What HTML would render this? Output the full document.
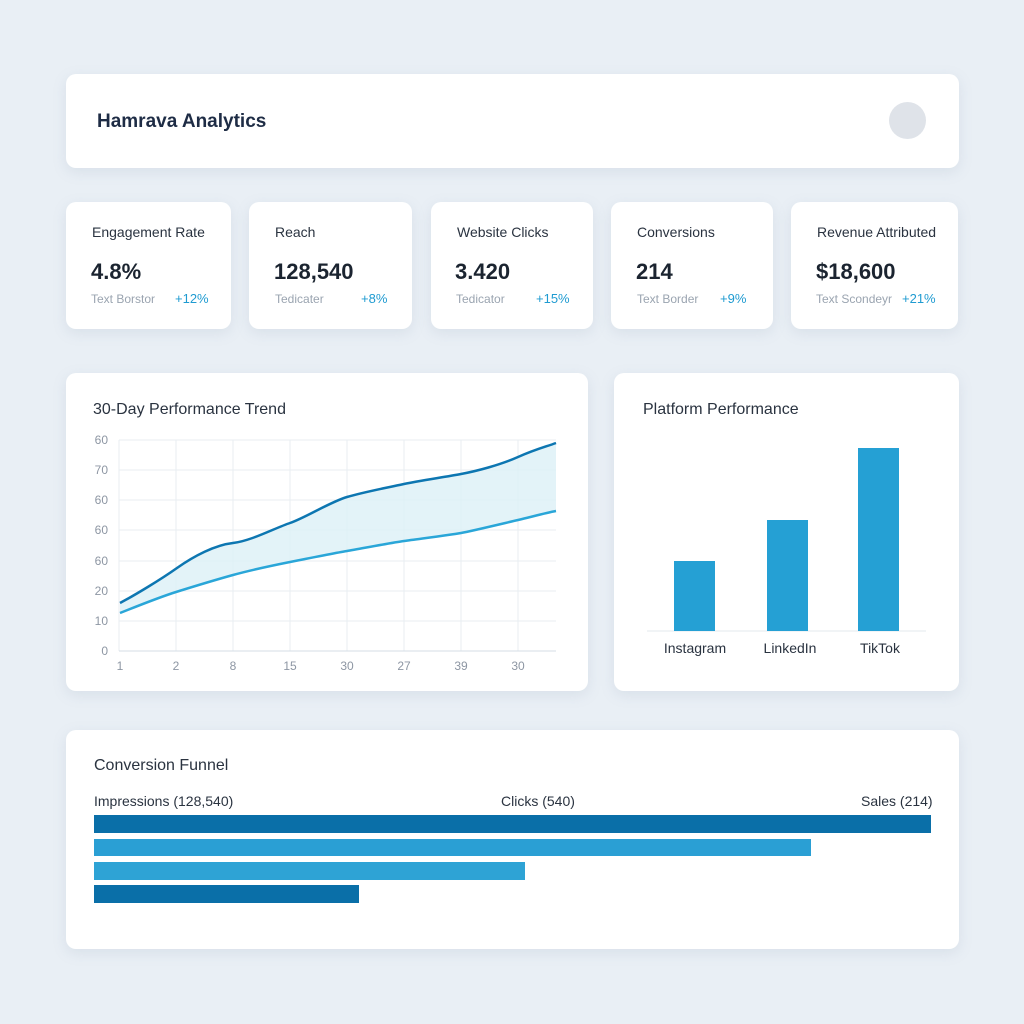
<!DOCTYPE html><html><head><style>
body{margin:0;width:1024px;height:1024px;background:#e9eff5;font-family:"Liberation Sans",sans-serif;position:relative;overflow:hidden;color:#1f2a37}
.c{position:absolute;background:#fff;border-radius:10px;box-shadow:0 4px 14px rgba(120,140,170,.15)}
.t{position:absolute;font-size:14px;color:#2a3340}
.v{position:absolute;font-size:22px;font-weight:bold;color:#1b2430}
.s{position:absolute;font-size:12px;color:#9aa4b0}
.p{position:absolute;font-size:13px;color:#1f9bd1}
</style></head><body>
<div class="c" style="left:66px;top:74px;width:893px;height:94px"></div>
<div style="position:absolute;left:97px;top:111px;font-size:19px;color:#1e2c45;font-weight:600">Hamrava Analytics</div>
<div style="position:absolute;left:889px;top:102px;width:37px;height:37px;border-radius:50%;background:#dfe3e9"></div>

<div class="c" style="left:66px;top:202px;width:165px;height:127px"></div>
<div class="c" style="left:249px;top:202px;width:163px;height:127px"></div>
<div class="c" style="left:431px;top:202px;width:162px;height:127px"></div>
<div class="c" style="left:611px;top:202px;width:162px;height:127px"></div>
<div class="c" style="left:791px;top:202px;width:167px;height:127px"></div>
<div class="t" style="left:92px;top:224px">Engagement Rate</div><div class="v" style="left:91px;top:259px">4.8%</div><div class="s" style="left:91px;top:292px">Text Borstor</div><div class="p" style="left:175px;top:291px">+12%</div>
<div class="t" style="left:275px;top:224px">Reach</div><div class="v" style="left:274px;top:259px">128,540</div><div class="s" style="left:275px;top:292px">Tedicater</div><div class="p" style="left:361px;top:291px">+8%</div>
<div class="t" style="left:457px;top:224px">Website Clicks</div><div class="v" style="left:455px;top:259px">3.420</div><div class="s" style="left:456px;top:292px">Tedicator</div><div class="p" style="left:536px;top:291px">+15%</div>
<div class="t" style="left:637px;top:224px">Conversions</div><div class="v" style="left:636px;top:259px">214</div><div class="s" style="left:637px;top:292px">Text Border</div><div class="p" style="left:720px;top:291px">+9%</div>
<div class="t" style="left:817px;top:224px">Revenue Attributed</div><div class="v" style="left:816px;top:259px">$18,600</div><div class="s" style="left:816px;top:292px">Text Scondeyr</div><div class="p" style="left:902px;top:291px">+21%</div>

<div class="c" style="left:66px;top:373px;width:522px;height:318px"></div>
<div class="c" style="left:614px;top:373px;width:345px;height:318px"></div>
<div class="t" style="left:93px;top:401px;font-size:16px">30-Day Performance Trend</div>
<div class="t" style="left:643px;top:401px;font-size:16px">Platform Performance</div>
<svg style="position:absolute;left:0;top:0" width="1024" height="1024">
<g stroke="#e8edf2" stroke-width="1">
<line x1="119" y1="440" x2="556" y2="440"/><line x1="119" y1="470" x2="556" y2="470"/><line x1="119" y1="500" x2="556" y2="500"/><line x1="119" y1="530" x2="556" y2="530"/><line x1="119" y1="561" x2="556" y2="561"/><line x1="119" y1="591" x2="556" y2="591"/><line x1="119" y1="621" x2="556" y2="621"/>
<line x1="119" y1="440" x2="119" y2="651"/><line x1="176" y1="440" x2="176" y2="651"/><line x1="233" y1="440" x2="233" y2="651"/><line x1="290" y1="440" x2="290" y2="651"/><line x1="347" y1="440" x2="347" y2="651"/><line x1="404" y1="440" x2="404" y2="651"/><line x1="461" y1="440" x2="461" y2="651"/><line x1="518" y1="440" x2="518" y2="651"/>
</g>
<line x1="119" y1="651" x2="556" y2="651" stroke="#d5dde6"/>
<g font-size="12" fill="#8d96a3" font-family="Liberation Sans">
<text x="108" y="444" text-anchor="end">60</text><text x="108" y="474" text-anchor="end">70</text><text x="108" y="504" text-anchor="end">60</text><text x="108" y="534" text-anchor="end">60</text><text x="108" y="565" text-anchor="end">60</text><text x="108" y="595" text-anchor="end">20</text><text x="108" y="625" text-anchor="end">10</text><text x="108" y="655" text-anchor="end">0</text>
<g text-anchor="middle"><text x="120" y="670">1</text><text x="176" y="670">2</text><text x="233" y="670">8</text><text x="290" y="670">15</text><text x="347" y="670">30</text><text x="404" y="670">27</text><text x="461" y="670">39</text><text x="518" y="670">30</text></g>
</g>
<path d="M120,603 C135,595 160,580 177,568 S215,545 233,543 S275,528 290,523 S330,502 347,497 S390,487 404,484 S445,477 461,474 S500,465 518,457 S545,447 556,443 L556,511 C540,516 530,518 518,520 S475,530 461,533 S415,539 404,541 S360,548 347,551 S305,559 290,562 S245,571 233,575 S195,586 176,592 S135,607 120,613Z" fill="#dcf0f6" opacity=".8"/>
<path d="M120,603 C135,595 160,580 177,568 S215,545 233,543 S275,528 290,523 S330,502 347,497 S390,487 404,484 S445,477 461,474 S500,465 518,457 S545,447 556,443" fill="none" stroke="#0d76b1" stroke-width="2.5"/>
<path d="M120,613 C135,607 160,597 176,592 S215,580 233,575 S275,565 290,562 S335,553 347,551 S390,543 404,541 S450,535 461,533 S505,523 518,520 S545,513 556,511" fill="none" stroke="#2aa6d8" stroke-width="2.5"/>
<line x1="647" y1="631" x2="926" y2="631" stroke="#e3e8ee"/>
<rect x="674" y="561" width="41" height="70" fill="#25a0d4"/><rect x="767" y="520" width="41" height="111" fill="#25a0d4"/><rect x="858" y="448" width="41" height="183" fill="#25a0d4"/>
<g font-size="14" fill="#2a3340" font-family="Liberation Sans" text-anchor="middle"><text x="695" y="653">Instagram</text><text x="790" y="653">LinkedIn</text><text x="880" y="653">TikTok</text></g>
</svg>

<div class="c" style="left:66px;top:730px;width:893px;height:219px"></div>
<div class="t" style="left:94px;top:757px;font-size:16px">Conversion Funnel</div>
<div class="t" style="left:94px;top:793px;font-size:14px">Impressions (128,540)</div>
<div class="t" style="left:501px;top:793px;font-size:14px">Clicks (540)</div>
<div class="t" style="left:861px;top:793px;font-size:14px">Sales (214)</div>
<div style="position:absolute;left:94px;top:815px;width:837px;height:18px;background:#0a6fa8"></div>
<div style="position:absolute;left:94px;top:839px;width:717px;height:17px;background:#2a9fd4"></div>
<div style="position:absolute;left:94px;top:862px;width:431px;height:18px;background:#2ea3d5"></div>
<div style="position:absolute;left:94px;top:885px;width:265px;height:18px;background:#0a6fa8"></div>
</body></html>
